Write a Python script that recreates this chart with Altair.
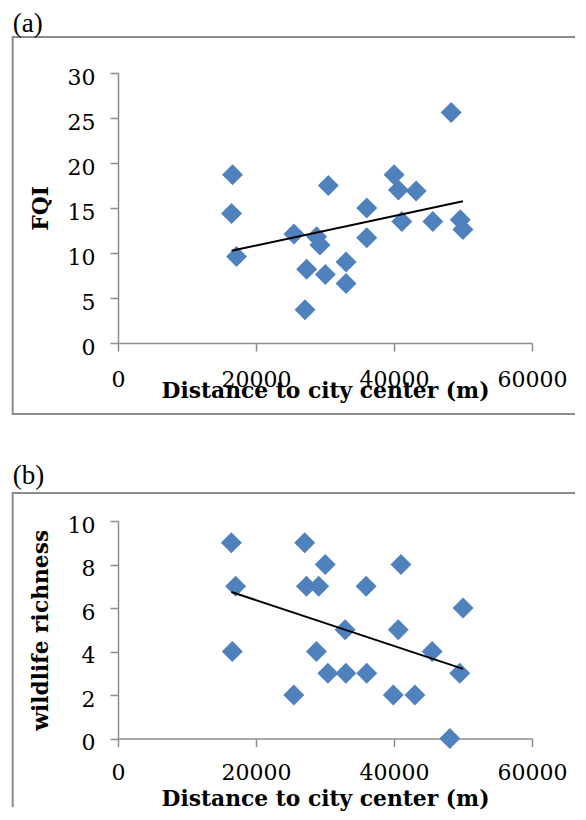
import altair as alt
import pandas as pd

# ---- data ----
dist_a = [16600, 16460, 17180, 25500, 28790, 29270, 27340, 27100, 30480, 30050, 33050,
          33050, 36050, 36050, 40010, 40640, 41130, 43210, 45630, 48290, 49600, 49990]
fqi = [18.7, 14.4, 9.6, 12.1, 11.8, 10.9, 8.2, 3.7, 17.5, 7.6, 9.0,
       6.6, 15.0, 11.7, 18.7, 17.0, 13.5, 16.9, 13.5, 25.6, 13.7, 12.6]

dist_b = [16430, 17050, 16570, 25480, 27060, 27310, 29090, 28760, 30040, 30420, 32920,
          33030, 35960, 36050, 39900, 41010, 40620, 43030, 45530, 48090, 49530, 50010]
wildlife = [9, 7, 4, 2, 9, 7, 7, 4, 8, 3, 5, 3, 7, 3, 2, 8, 5, 2, 4, 0, 3, 6]

x_ticks = [0, 20000, 40000, 60000]
fqi_ticks = [0, 5, 10, 15, 20, 25, 30]
wild_ticks = [0, 2, 4, 6, 8, 10]

x_title = "Distance to city center (m)"

SERIF = "DejaVu Serif"
POINT = "#4F81BD"
AXIS = "#8C8C8C"
FRAME = "#8C8C8C"
W = 414
FRAME_X = -105.3
FRAME_X2 = 457
TITLE_SIZE = 21.8


def panel(df, ycol, ytitle, yticks, ymax, H, label, label_y, xlab_pad, xtitle_y,
          frame_top, frame_bottom, draw_bottom, anchor_y):
    x_enc = alt.X("dist:Q",
                  scale=alt.Scale(domain=[0, 60000], nice=False, zero=True),
                  axis=alt.Axis(values=x_ticks, format="d", title=x_title, grid=False,
                                labelFont=SERIF, labelFontSize=22, labelColor="black",
                                labelPadding=xlab_pad, labelFlush=False, labelOverlap=False,
                                tickSize=8, tickColor=AXIS, tickWidth=1.5,
                                domainColor=AXIS, domainWidth=1.5,
                                titleFont=SERIF, titleFontSize=TITLE_SIZE,
                                titleFontWeight="bold",
                                titleColor="black", titleX=W / 2, titleY=xtitle_y,
                                titleAlign="center", titleBaseline="alphabetic"))
    y_enc = alt.Y(f"{ycol}:Q",
                  scale=alt.Scale(domain=[0, ymax], nice=False, zero=True),
                  axis=alt.Axis(values=yticks, title=ytitle, grid=False,
                                labelFont=SERIF, labelFontSize=22, labelColor="black",
                                labelPadding=15, labelOffset=4, labelFlush=False,
                                labelOverlap=False,
                                tickSize=8, tickColor=AXIS, tickWidth=1.5,
                                domainColor=AXIS, domainWidth=1.5,
                                titleFont=SERIF, titleFontSize=TITLE_SIZE,
                                titleFontWeight="bold",
                                titleColor="black", titleAngle=270, titleX=-70.5,
                                titleY=H / 2, titleAlign="center",
                                titleBaseline="alphabetic"))
    base = alt.Chart(df)
    pts = base.mark_point(shape="diamond", filled=True, size=440, color=POINT,
                          opacity=1, strokeWidth=0).encode(x=x_enc, y=y_enc)
    trend = base.transform_regression("dist", ycol).mark_line(
        color="black", strokeWidth=2).encode(x=x_enc, y=y_enc)

    dec = alt.Data(values=[{"k": 0}])
    # invisible anchor fixing the top-left corner of the panel's bounds
    anchor = alt.Chart(dec).mark_rule(opacity=0, strokeWidth=0).encode(
        x=alt.value(-110), x2=alt.value(-109), y=alt.value(anchor_y))
    left = alt.Chart(dec).mark_rule(color=FRAME, strokeWidth=2).encode(
        x=alt.value(FRAME_X), y=alt.value(frame_top - 1), y2=alt.value(frame_bottom + 1))
    top = alt.Chart(dec).mark_rule(color=FRAME, strokeWidth=2).encode(
        x=alt.value(FRAME_X), x2=alt.value(FRAME_X2), y=alt.value(frame_top))
    lab = alt.Chart(dec).mark_text(align="left", baseline="alphabetic",
                                   font="Liberation Serif", fontSize=27,
                                   color="black").encode(
        x=alt.value(FRAME_X), y=alt.value(label_y), text=alt.value(label))
    layers = [anchor, left, top]
    if draw_bottom:
        bottom = alt.Chart(dec).mark_rule(color=FRAME, strokeWidth=2).encode(
            x=alt.value(FRAME_X), x2=alt.value(FRAME_X2), y=alt.value(frame_bottom))
        layers.append(bottom)
    layers += [lab, pts, trend]
    return alt.layer(*layers).properties(width=W, height=H)


df_a = pd.DataFrame({"dist": dist_a, "fqi": fqi})
df_b = pd.DataFrame({"dist": dist_b, "wildlife": wildlife})

chart_a = panel(df_a, "fqi", "FQI", fqi_ticks, 30, 270, "(a)", -40.8, 18.4, 54,
                -36, 341, True, -75)
chart_b = panel(df_b, "wildlife", "wildlife richness", wild_ticks, 10, 217.6, "(b)",
                -36.7, 16, 66.7, -28, 285.3, False, -70.7)

chart = alt.vconcat(chart_a, chart_b, spacing=34).properties(
    padding={"left": 0, "top": -10, "right": 0, "bottom": 0}
).configure_view(strokeWidth=0)

chart.save("out.html", embed_options={"renderer": "svg", "actions": False})
